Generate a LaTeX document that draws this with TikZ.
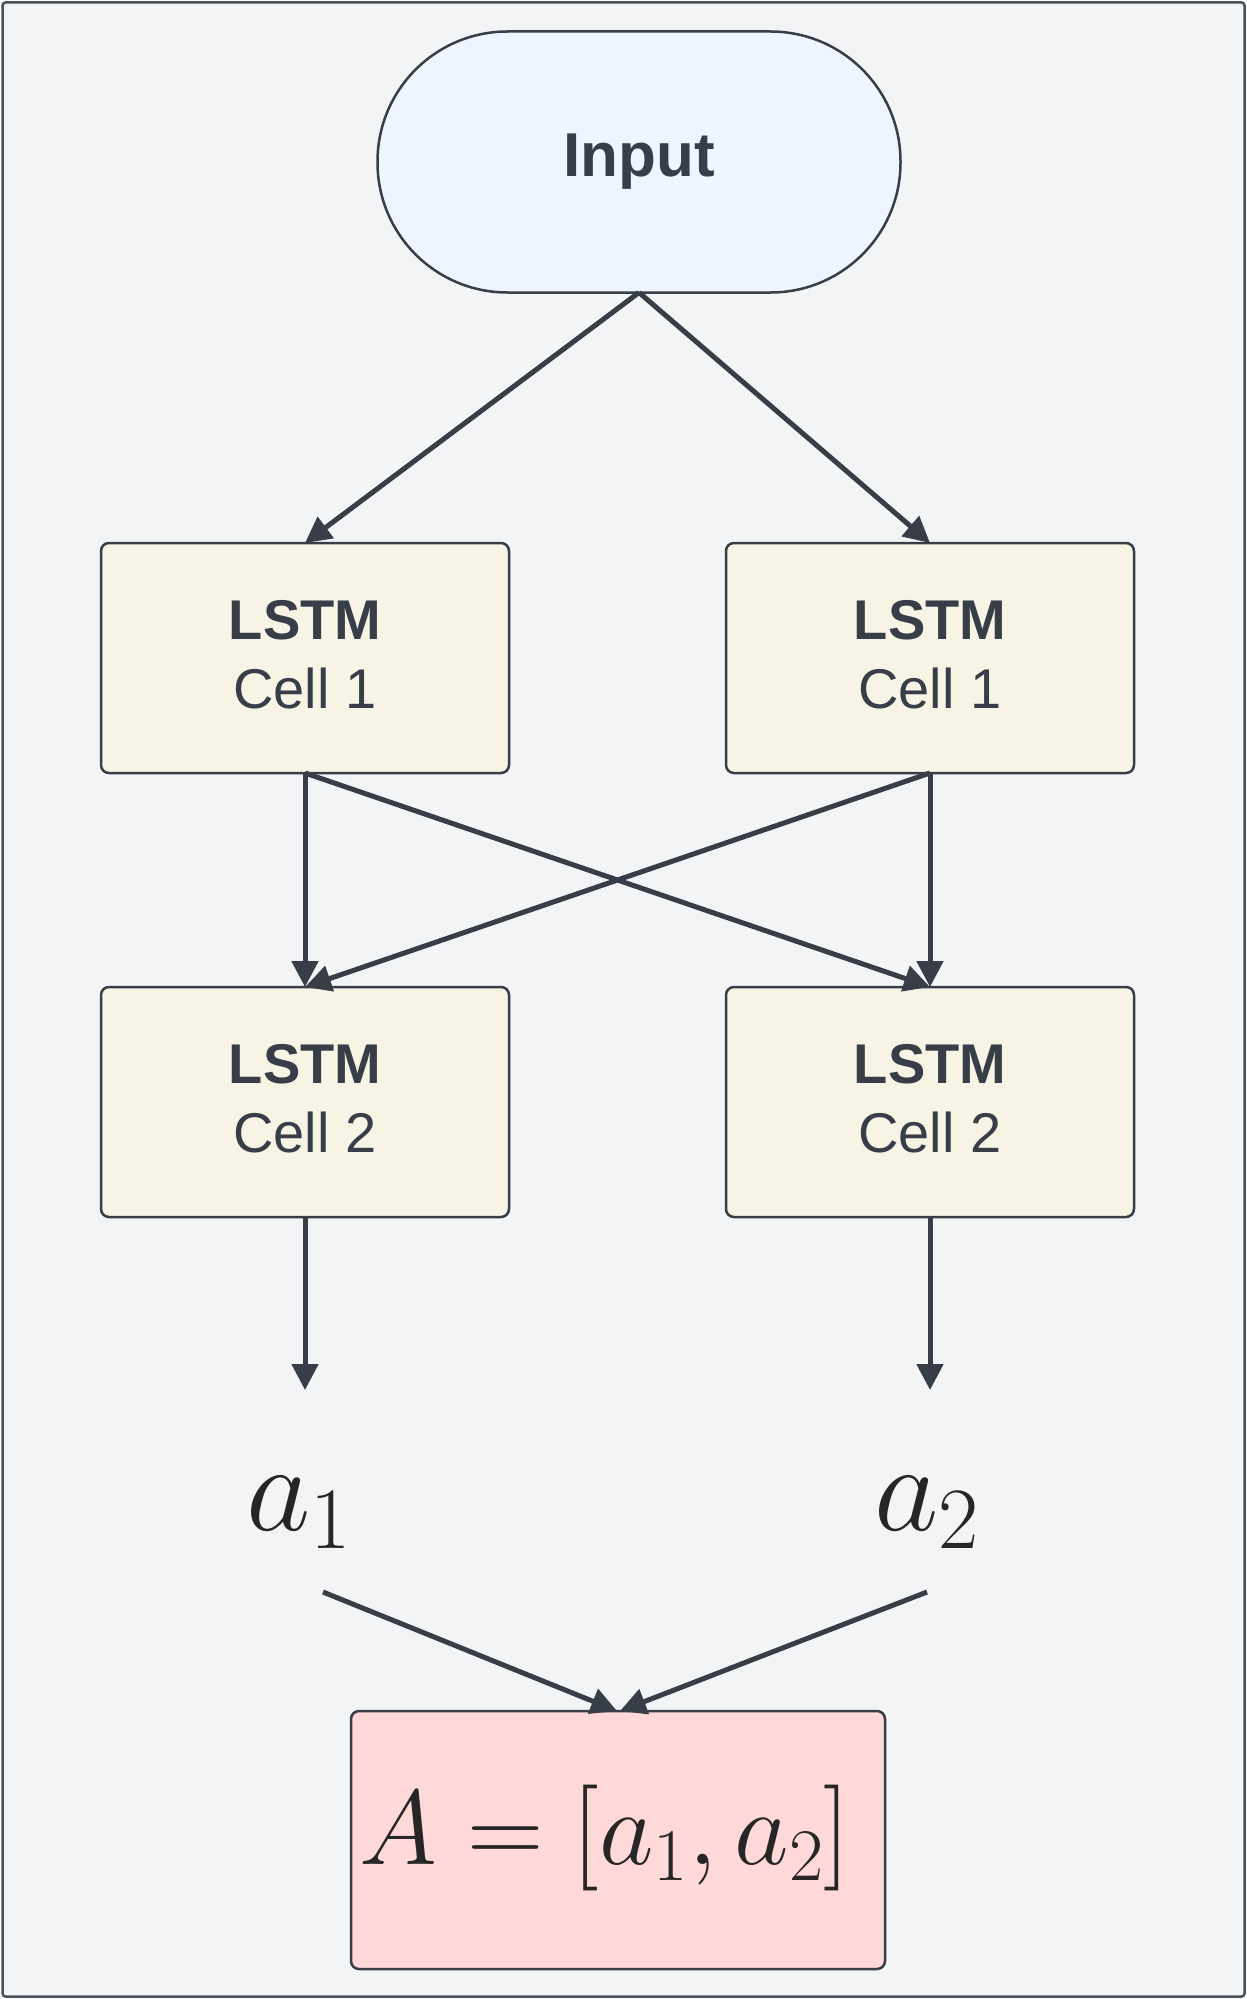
\RequirePackage{fix-cm}
\documentclass[tikz,border=0pt]{standalone}
\usepackage{fontspec}
\setmainfont{Liberation Sans}
\usetikzlibrary{arrows.meta}
\definecolor{ink}{HTML}{373E48}
\definecolor{mathink}{HTML}{262626}
\definecolor{bgc}{HTML}{F3F4F6}
\definecolor{inputfill}{HTML}{EEF5FE}
\definecolor{cellfill}{HTML}{F7F4E6}
\definecolor{outfill}{HTML}{FFD8D9}
\tikzset{
  cellbox/.style={draw=ink, line width=2.5pt, fill=cellfill, rounded corners=8pt,
    minimum width=408pt, minimum height=230pt, inner sep=0pt, outer sep=0pt,
    align=center, text=ink, font=\fontsize{56}{69}\selectfont},
  conn/.style={draw=ink, line width=5pt, -{Triangle[length=26pt,width=26pt]}},
  lbl/.style={inner sep=0pt, outer sep=0pt, text=mathink, font=\fontsize{125}{125}\selectfont}
}
\begin{document}
\begin{tikzpicture}[x=1pt,y=-1pt]
\useasboundingbox (0,0) rectangle (1247,1999);
\draw[draw=ink!90, line width=2.5pt, fill=bgc, rounded corners=3pt] (2.5,2.5) rectangle (1244.5,1996.5);
\node[draw=ink, line width=2.5pt, fill=inputfill, rounded corners=130pt,
  minimum width=523pt, minimum height=261pt, inner sep=0pt, outer sep=0pt,
  text=ink, font=\fontsize{62}{62}\selectfont\bfseries] (in) at (639,162) {Input};
\node[cellbox] (c11) at (305,658) {\textbf{LSTM}\\Cell 1\\[-62pt]\mbox{}};
\node[cellbox] (c12) at (930,658) {\textbf{LSTM}\\Cell 1\\[-62pt]\mbox{}};
\node[cellbox] (c21) at (305,1102) {\textbf{LSTM}\\Cell 2\\[-62pt]\mbox{}};
\node[cellbox] (c22) at (930,1102) {\textbf{LSTM}\\Cell 2\\[-62pt]\mbox{}};
\coordinate (t1) at (305,1390);
\coordinate (t2) at (930,1390);
\node[lbl, anchor=base] (a1) at (299,1530) {$a_1$};
\node[lbl, anchor=base] (a2) at (927,1530) {$a_2$};
\coordinate (s1) at (323,1592);
\coordinate (s2) at (927,1592);
\node[draw=ink, line width=2.5pt, fill=outfill, rounded corners=8pt,
  minimum width=534pt, minimum height=258pt, inner sep=0pt, outer sep=0pt] (A) at (618,1840) {};
\node[inner sep=0pt, text=mathink, font=\fontsize{106}{106}\selectfont] (Atext) at (605,1838) {$A=[a_1,a_2]$};
\draw[conn] (in.south) -- (c11.north);
\draw[conn] (in.south) -- (c12.north);
\draw[conn] (c11.south) -- (c21.north);
\draw[conn] (c11.south) -- (c22.north);
\draw[conn] (c12.south) -- (c22.north);
\draw[conn] (c12.south) -- (c21.north);
\draw[conn] (c21.south) -- (t1);
\draw[conn] (c22.south) -- (t2);
\draw[conn] (s1) -- ([xshift=-1pt]A.north);
\draw[conn] (s2) -- ([xshift=2pt]A.north);
\end{tikzpicture}
\end{document}
